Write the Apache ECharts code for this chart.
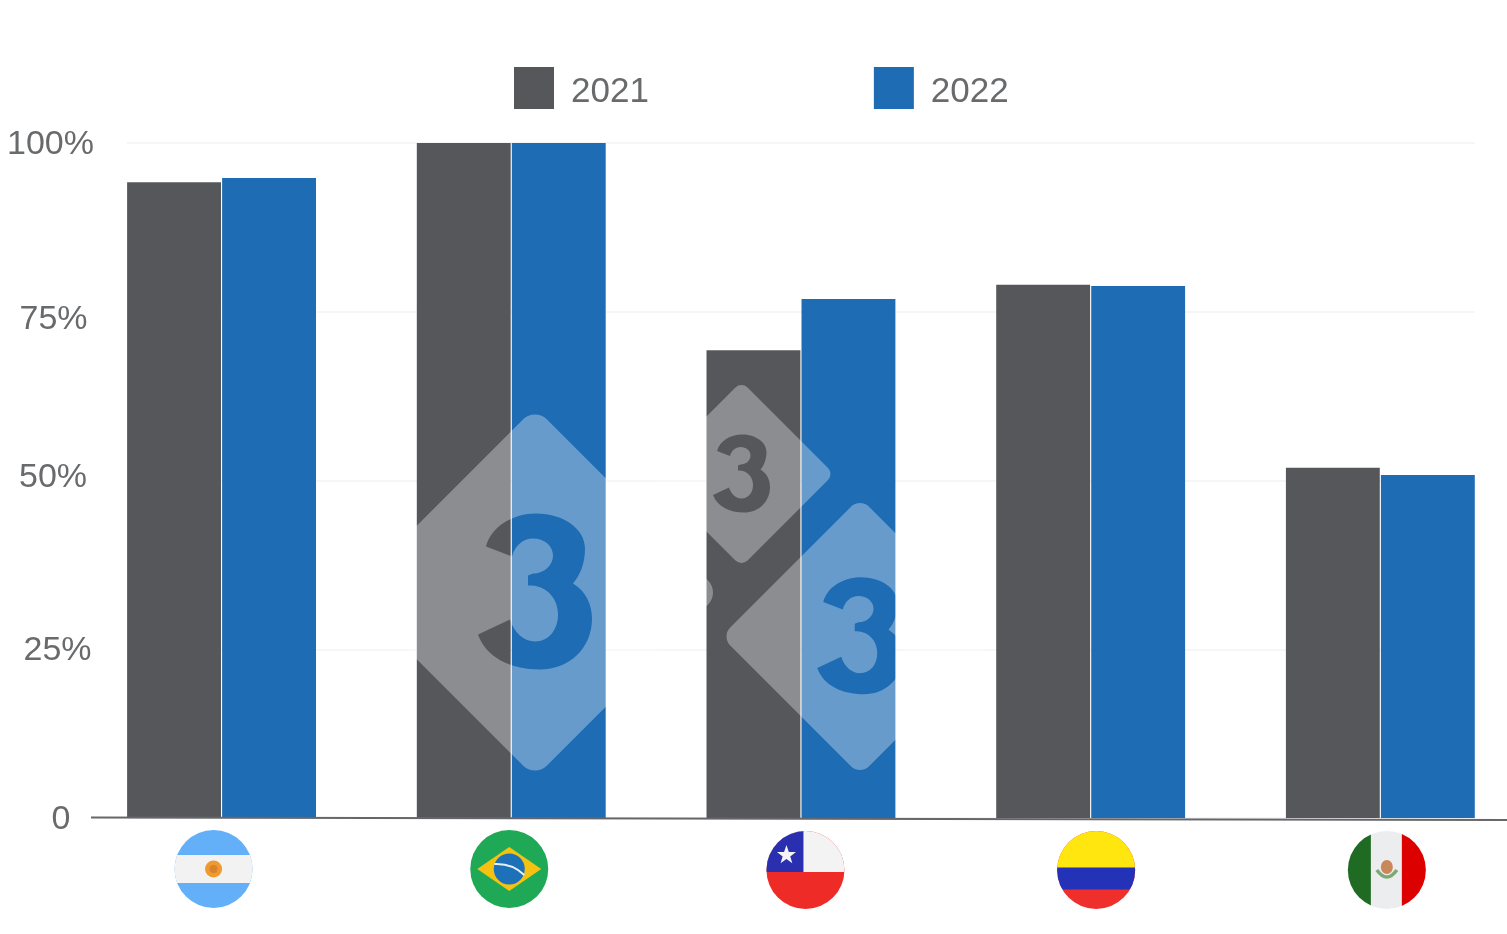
<!DOCTYPE html>
<html>
<head>
<meta charset="utf-8">
<title>Gráfico por país</title>
<style>
  html, body { margin: 0; padding: 0; background: #fff; }
  #chart { width: 1507px; height: 934px; }
</style>
<script src="https://cdn.jsdelivr.net/npm/echarts@6/dist/echarts.min.js"></script>
</head>
<body>
<div id="chart"></div>
<script>
// Country order on the category axis
const countries = ['Argentina', 'Brasil', 'Chile', 'Colombia', 'México'];
const seriesNames = ['2021', '2022'];
const values2021 = [94.2, 100, 69.3, 79.0, 51.9];
const values2022 = [94.8, 100, 76.9, 78.8, 50.8];
const yTickLabels = ['0', '25%', '50%', '75%', '100%'];

const GREY = '#55575b';
const BLUE = '#1e6cb3';
const TEXT = '#696a6c';

// Round flag badges, one SVG per country (viewBox centred on the disc)
const flagBodies = {
  'Argentina': `<rect x="-40" y="-40" width="80" height="80" fill="#64b0f8"/>
    <rect x="-40" y="-14" width="80" height="28" fill="#f2f2f3"/>
    <circle r="8.5" fill="#ee9a2e"/><circle r="4" fill="#d9822b"/>`,
  'Brasil': `<rect x="-40" y="-40" width="80" height="80" fill="#1fa855"/>
    <path d="M-32,0 L0,-22 L32,0 L0,22 Z" fill="#f5c211"/>
    <circle r="15.5" fill="#1d71b8"/>
    <path d="M-15,-5 Q3,-6 15,6" fill="none" stroke="#e8f0f0" stroke-width="2"/>`,
  'Chile': `<rect x="-40" y="-40" width="80" height="80" fill="#ef2b27"/>
    <rect x="-40" y="-40" width="80" height="42" fill="#f3f3f4"/>
    <rect x="-40" y="-40" width="38" height="42" fill="#2a2fb0"/>
    <path d="M-19,-25 L-16.6,-18 L-9.5,-18 L-15.2,-13.6 L-13.1,-6.8 L-19,-11 L-24.9,-6.8 L-22.8,-13.6 L-28.5,-18 L-21.4,-18 Z" fill="#f4f4f6"/>`,
  'Colombia': `<rect x="-40" y="-40" width="80" height="80" fill="#ee2f2b"/>
    <rect x="-40" y="-3" width="80" height="22.5" fill="#2432b8"/>
    <rect x="-40" y="-40" width="80" height="37.5" fill="#ffe60f"/>`,
  'México': `<rect x="-40" y="-40" width="80" height="80" fill="#ecedef"/>
    <rect x="-40" y="-40" width="24" height="80" fill="#1f6b23"/>
    <rect x="15" y="-40" width="25" height="80" fill="#dd0000"/>
    <ellipse cx="0" cy="-3" rx="6" ry="7" fill="#c9885a"/>
    <path d="M-10,0 Q0,14 10,0" fill="none" stroke="#7fa878" stroke-width="3.5"/>`
};

function svgUri(body, half) {
  const size = half * 2;
  const svg = `<svg xmlns="http://www.w3.org/2000/svg" width="${size * 2}" height="${size * 2}" viewBox="${-half} ${-half} ${size} ${size}">${body}</svg>`;
  return 'data:image/svg+xml;charset=utf-8,' + encodeURIComponent(svg);
}

function flagUri(name) {
  return svgUri(`<defs><clipPath id="disc"><circle r="39"/></clipPath></defs><g clip-path="url(#disc)">${flagBodies[name]}</g>`, 40);
}

// Translucent rounded diamond with a numeral knocked out of it
const numeralPath = 'M-49,-46 C-44,-66 -22,-79 1,-79 C28,-79 50,-64 50,-44 C50,-29 45,-17 38,-9 ' +
  'C50,-2 57,11 57,26 C57,56 34,77 5,77 C-24,77 -49,65 -57,42 L-25,27 C-21,40 -11,49 0,49 ' +
  'C13,49 23,38 23,22 C23,6 12,-6 -3,-7 L-7,-7 L-7,-17 L-2,-19 C9,-19 18,-27 18,-37 ' +
  'C18,-47 9,-54 -2,-54 C-12,-54 -20,-47 -23,-36 Z';

const badgeUri = svgUri(`<defs><mask id="cut" maskUnits="userSpaceOnUse" x="-200" y="-200" width="400" height="400">
    <path d="M0,-161 L161,0 L0,161 L-161,0 Z" fill="#fff" stroke="#fff" stroke-width="34" stroke-linejoin="round"/>
    <path d="${numeralPath}" fill="#000"/>
  </mask></defs>
  <rect x="-200" y="-200" width="400" height="400" fill="#fff" mask="url(#cut)"/>`, 200);

// Badge placement: centre and scale relative to the full-size badge
const badges = [
  { x: 535, y: 592.5, scale: 1 },
  { x: 741.5, y: 474, scale: 0.5 },
  { x: 860, y: 636.5, scale: 0.75 }
];

// Flags sit slightly off the centre of their category band
const flagOffsetX = [-8, -2, 4.5, 5.5, 6.5];
const flagY = [869, 869, 870, 870, 870];

// Per-tick nudges of the value labels, as [dx, dy]
const yLabelNudge = [[7, 2], [3.5, 1], [-1, -3], [-0.5, 8], [-3.5, 2]];

const yLabelRich = {};
yLabelNudge.forEach(([dx, dy], i) => {
  yLabelRich['t' + i] = {
    fontSize: 34,
    color: TEXT,
    padding: [Math.max(dy, 0) * 2, Math.max(-dx, 0) * 2, Math.max(-dy, 0) * 2, Math.max(dx, 0) * 2]
  };
});

const PLOT_TOP = 143;
const PLOT_HEIGHT = 675;

const chart = echarts.init(document.getElementById('chart'), null, { renderer: 'canvas' });

chart.setOption({
  animation: false,
  backgroundColor: '#ffffff',
  textStyle: { fontFamily: '"Liberation Sans", Arial, sans-serif' },
  legend: {
    data: seriesNames,
    left: 514,
    top: 67,
    padding: 0,
    itemWidth: 40,
    itemHeight: 42,
    itemGap: 225,
    icon: 'rect',
    selectedMode: false,
    formatter: '{n|{name}}',
    textStyle: {
      fontSize: 35,
      color: TEXT,
      rich: { n: { fontSize: 35, color: TEXT, padding: [8, 0, 0, 12] } }
    }
  },
  grid: [
    { left: 76.7, width: 1448.5, top: PLOT_TOP, height: PLOT_HEIGHT, outerBoundsMode: 'none' },
    { left: 127, right: 32, top: PLOT_TOP, height: PLOT_HEIGHT, outerBoundsMode: 'none' }
  ],
  xAxis: [
    { type: 'category', gridIndex: 0, data: countries, show: false },
    { type: 'category', gridIndex: 1, data: countries, show: false }
  ],
  yAxis: [
    { type: 'value', gridIndex: 0, min: 0, max: 100, show: false },
    {
      type: 'value',
      gridIndex: 1,
      min: 0,
      max: 100,
      interval: 25,
      axisLine: { show: false },
      axisTick: { show: false },
      axisLabel: {
        fontSize: 34,
        color: TEXT,
        align: 'center',
        margin: 73,
        rich: yLabelRich,
        formatter: (v) => `{t${v / 25}|${yTickLabels[v / 25]}}`
      },
      splitLine: { lineStyle: { color: '#f3f3f3', width: 1.5 } }
    }
  ],
  series: [
    {
      name: seriesNames[0], type: 'bar', xAxisIndex: 0, yAxisIndex: 0,
      data: values2021, itemStyle: { color: GREY },
      barCategoryGap: '34.8%', barGap: '1.2%'
    },
    {
      name: seriesNames[1], type: 'bar', xAxisIndex: 0, yAxisIndex: 0,
      data: values2022, itemStyle: { color: BLUE },
      barCategoryGap: '34.8%', barGap: '1.2%'
    }
  ]
});

// Overlay elements placed once the scales are known
const flagGraphics = countries.map((name, i) => {
  const cx = chart.convertToPixel({ xAxisIndex: 0 }, name) + flagOffsetX[i];
  return {
    type: 'image',
    z: 10,
    silent: true,
    style: { image: flagUri(name), x: cx - 40, y: flagY[i] - 40, width: 80, height: 80 }
  };
});

const badgeGraphics = badges.map((b) => {
  const half = 200 * b.scale;
  return {
    type: 'image',
    z: 20,
    silent: true,
    style: { image: badgeUri, x: b.x - half, y: b.y - half, width: half * 2, height: half * 2, opacity: 0.32 }
  };
});

const baseline = {
  type: 'line',
  z: 15,
  silent: true,
  shape: { x1: 91, y1: 817.5, x2: 1507, y2: 820 },
  style: { stroke: '#66676a', lineWidth: 2 }
};

chart.setOption({ graphic: [baseline, ...flagGraphics, ...badgeGraphics] });
</script>
</body>
</html>
